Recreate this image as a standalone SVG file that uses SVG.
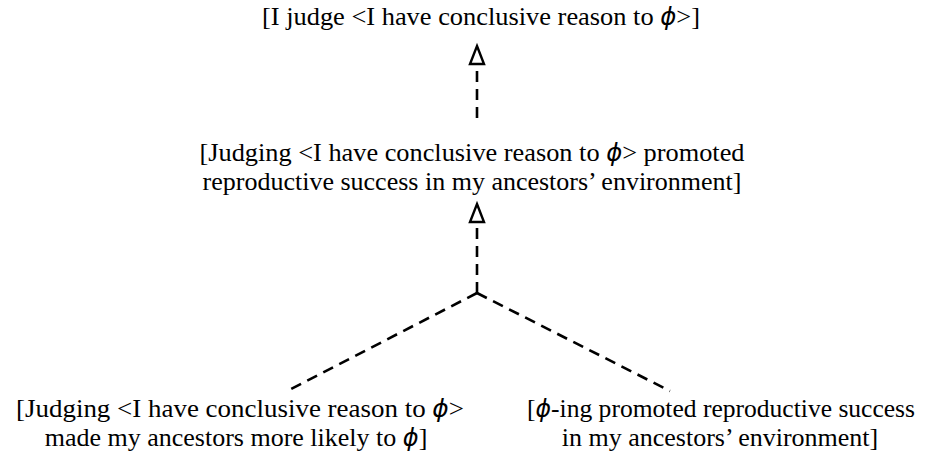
<svg xmlns="http://www.w3.org/2000/svg" width="927" height="456" viewBox="0 0 927 456">
<style>
text{font-family:"Liberation Serif","Times New Roman",serif;font-size:26px;fill:#000;text-anchor:middle}
.phi{font-style:italic;font-family:"DejaVu Sans","Liberation Sans",sans-serif;font-size:24px}
.c{stroke:#000;stroke-width:2.6;stroke-dasharray:11 7;fill:none}
.h{fill:#fff;stroke:#000;stroke-width:2.4;stroke-linejoin:miter}
</style>
<rect width="927" height="456" fill="#fff"/>
<g id="n1"><text x="481" y="25" textLength="438" lengthAdjust="spacingAndGlyphs">[I judge &lt;I have conclusive reason to <tspan class="phi">ϕ</tspan>&gt;]</text></g>
<g id="n2"><text x="472" y="161" textLength="545" lengthAdjust="spacingAndGlyphs">[Judging &lt;I have conclusive reason to <tspan class="phi">ϕ</tspan>&gt; promoted</text><text x="472" y="190">reproductive success in my ancestors’ environment]</text></g>
<g id="n3"><text x="240" y="417" textLength="448" lengthAdjust="spacingAndGlyphs">[Judging &lt;I have conclusive reason to <tspan class="phi">ϕ</tspan>&gt;</text><text x="236" y="446">made my ancestors more likely to <tspan class="phi">ϕ</tspan>]</text></g>
<g id="n4"><text x="721" y="417" textLength="388" lengthAdjust="spacingAndGlyphs">[<tspan class="phi">ϕ</tspan>-ing promoted reproductive success</text><text x="720" y="446">in my ancestors’ environment]</text></g>
<g id="connectors">
<line class="c" x1="477" y1="118" x2="477" y2="66"/>
<path class="h" d="M477,46 L484,64 L470,64 Z"/>
<line class="c" x1="477" y1="293" x2="477" y2="224"/>
<path class="h" d="M477,204 L484,222 L470,222 Z"/>
<line class="c" x1="477" y1="293" x2="291" y2="389"/>
<line class="c" x1="477" y1="293" x2="670" y2="391"/>
</g>
</svg>
